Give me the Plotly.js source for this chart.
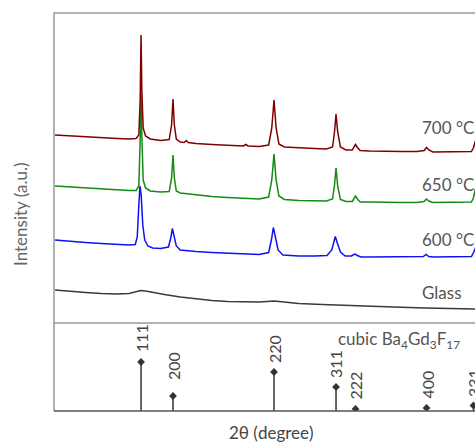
<!DOCTYPE html>
<html>
<head>
<meta charset="utf-8">
<script src="https://cdn.plot.ly/plotly-3.0.1.min.js"></script>
<style>html,body{margin:0;padding:0;overflow:hidden;background:#fff}#chart{width:500px;height:443px}</style>
</head>
<body>
<div id="chart"></div>
<script>
// ---------- data (2θ in degrees, intensity in a.u., stacked offsets included) ----------
const tt700 = [15.13,17.0,19.0,21.0,23.0,24.5,25.4,25.75,25.92,26.03,26.13,26.3,26.6,27.2,28.5,29.6,29.9,30.08,30.25,30.5,31.0,31.5,31.75,32.0,33.0,35.0,37.0,39.0,39.3,39.6,41.0,42.2,42.6,42.88,43.15,43.5,44.2,46.0,48.0,49.5,50.3,50.55,50.74,50.95,51.3,52.0,52.8,53.05,53.21,53.45,53.8,55.0,57.0,59.0,61.0,61.9,62.2,62.5,63.0,65.0,67.0,67.9,68.15,68.4,68.65,69.0,70.0];
const i700  = [188,187,186,185.5,184.5,184,184.5,188,223,288,233,195,187,184,182.5,183.5,198,224,198,184,181,180.5,182.5,180.5,179.5,178.5,177.5,177,178.5,177,176.5,178,195,223,195,179,176,175,174.5,174,176,191,209,191,176,173,173,176.5,178.5,175.5,172.5,172,171.5,171.5,171.5,172.5,175.5,173,171,171,171,171.5,175,182,175,171.5,171];

const tt650 = [15.13,17.0,19.0,21.0,23.0,24.5,25.4,25.75,25.92,26.03,26.13,26.3,26.6,27.2,28.5,29.6,29.9,30.08,30.25,30.5,31.0,32.0,33.0,35.0,37.0,39.0,41.0,42.2,42.6,42.88,43.15,43.5,44.2,46.0,48.0,49.5,50.3,50.55,50.74,50.95,51.3,52.0,52.8,53.05,53.21,53.45,53.8,55.0,57.0,59.0,61.0,61.9,62.2,62.5,63.0,65.0,67.0,67.9,68.15,68.4,68.65,69.0,70.0];
const i650  = [137,136,135,134,133.5,132.5,132.5,137,183,230,188,143,135,132,131,131.5,145,168,145,132,130,129,128,126.5,125.5,124.5,124,126,143,169,143,127,123.5,122.5,122,122,124,138,155,137,123.5,121.5,121.5,125,127,124,121,121,120.5,120.5,120.5,121.5,124,122,120.5,120.5,120.5,121,125,134,125,120.5,120.5];

const tt600 = [15.13,17.0,19.0,21.0,23.0,24.5,25.3,25.55,25.75,25.9,26.05,26.25,26.5,26.9,27.5,28.5,29.5,29.8,30.0,30.2,30.5,31.0,32.0,33.0,35.0,37.0,39.0,41.0,42.2,42.55,42.8,43.05,43.4,44.0,46.0,48.0,49.6,50.2,50.45,50.65,50.9,51.3,51.9,52.7,53.0,53.15,53.45,53.9,55.0,57.0,59.0,61.0,61.8,62.15,62.5,63.0,65.0,67.0,67.9,68.2,68.45,68.75,69.2,70.0];
const i600  = [83,81.5,80.5,79.5,78.5,78,78.5,86,118,137,128,98,83,77,75,74.5,76,85,94.5,87,77,73,72,71.5,70.5,70,69,68.5,70.5,83,95.5,86,73,68,67,67,67.5,73,82,86.5,80,71,67,67,68.5,69,67.5,66,66,66,66,66,66.5,68.5,66.5,66,66,66,66.5,71,76,71,66.5,66];

const ttGlass = [15.13,17.0,19.0,21.0,23.0,24.5,25.5,26.0,26.6,27.5,29.0,31.0,33.0,35.0,37.0,39.0,41.0,42.9,44.5,46.0,49.0,52.0,55.0,58.0,62.0,66.0,70.0];
const iGlass  = [33,31.5,30.5,29.5,29,29.5,31.5,32.5,32,30.5,28.5,26,24,22.5,21.5,21,21,22,20.5,19.5,18.5,17.5,17,16,15,14,13.7];

const seriesNames = ['Glass','600 °C','650 °C','700 °C'];
const labelY      = [30.5, 83.5, 138.5, 196];

// reference pattern: cubic Ba4Gd3F17
const hkl      = ['111','200','220','311','222','400','331'];
const stickPos = [26.03, 30.08, 42.88, 50.74, 53.21, 62.21, 68.16];
const stickInt = [100, 30.6, 79.6, 49, 4.1, 6.1, 11.2];
const refPhase = 'cubic Ba<sub>4</sub>Gd<sub>3</sub>F<sub>17</sub>';

// ---------- styling / layout ----------
const FONT = 'Lato, "Open Sans", "DejaVu Sans", sans-serif';
const TXT = '#555';
const split = 88/398;

const lineTrace = (x, y, color, name) => ({
  x, y, type:'scatter', mode:'lines', name, xaxis:'x', yaxis:'y',
  line:{color, width:1.5}, hoverinfo:'skip'
});

const traces = [
  lineTrace(ttGlass, iGlass, '#3a3a3a', seriesNames[0]),
  lineTrace(tt600, i600, '#1010f5', seriesNames[1]),
  lineTrace(tt650, i650, '#138a13', seriesNames[2]),
  lineTrace(tt700, i700, '#800000', seriesNames[3]),
  {
    x: stickPos, y: stickInt, type:'scatter', mode:'markers', xaxis:'x', yaxis:'y2',
    marker:{symbol:'diamond', size:6, color:'#333'},
    error_y:{type:'data', symmetric:false, array:stickInt.map(()=>0), arrayminus:stickInt,
             width:0, thickness:1.5, color:'#333'},
    hoverinfo:'skip'
  }
];

const labelShift = [8, 14, 7, 7, 7, 7, 7];
const annotations = [];
seriesNames.forEach((n, k) => annotations.push({
  xref:'x', yref:'y', x:61.38, y:labelY[k], text:n, showarrow:false,
  xanchor:'left', yanchor:'middle', font:{family:FONT, size:17, color:TXT}
}));
hkl.forEach((h, k) => annotations.push({
  xref:'x', yref:'y2', x:stickPos[k], y:stickInt[k], text:h, showarrow:false,
  textangle:-90, xanchor:'center', yanchor:'bottom', yshift:labelShift[k],
  font:{family:FONT, size:16, color:'#444'}
}));
annotations.push({
  xref:'x', yref:'y2', x:50.74, y:145, text:refPhase, showarrow:false,
  xanchor:'left', yanchor:'middle', font:{family:FONT, size:17, color:TXT}
});
annotations.push({
  xref:'paper', yref:'paper', x:(20-54)/434, y:(411-215)/398, text:'Intensity (a.u.)',
  showarrow:false, textangle:-90, xanchor:'center', yanchor:'middle',
  font:{family:FONT, size:17, color:'#666'}
});
annotations.push({
  xref:'paper', yref:'paper', x:0.5, y:(411-433)/398, text:'2θ (degree)',
  showarrow:false, xanchor:'center', yanchor:'middle',
  font:{family:FONT, size:17, color:'#444'}
});

const hidden = {showgrid:false, zeroline:false, showticklabels:false, ticks:'', showline:false, fixedrange:true};

const layout = {
  width:500, height:443,
  margin:{l:54, r:12, t:13, b:32},
  paper_bgcolor:'#fff', plot_bgcolor:'#fff',
  showlegend:false,
  xaxis:Object.assign({range:[15,70], anchor:'y2'}, hidden),
  yaxis:Object.assign({domain:[split,1], range:[0,310]}, hidden),
  yaxis2:Object.assign({domain:[0,split], range:[0,179.6]}, hidden),
  shapes:[
    {type:'rect', xref:'paper', yref:'paper', x0:0, x1:1, y0:split, y1:1, line:{color:'#999', width:1.5}},
    {type:'line', xref:'paper', yref:'paper', x0:0, x1:0, y0:0, y1:split, line:{color:'#999', width:1.5}},
    {type:'line', xref:'paper', yref:'paper', x0:0, x1:1, y0:0, y1:0, line:{color:'#555', width:1.5}}
  ],
  annotations
};

Plotly.newPlot('chart', traces, layout, {displayModeBar:false, staticPlot:true});
</script>
</body>
</html>
